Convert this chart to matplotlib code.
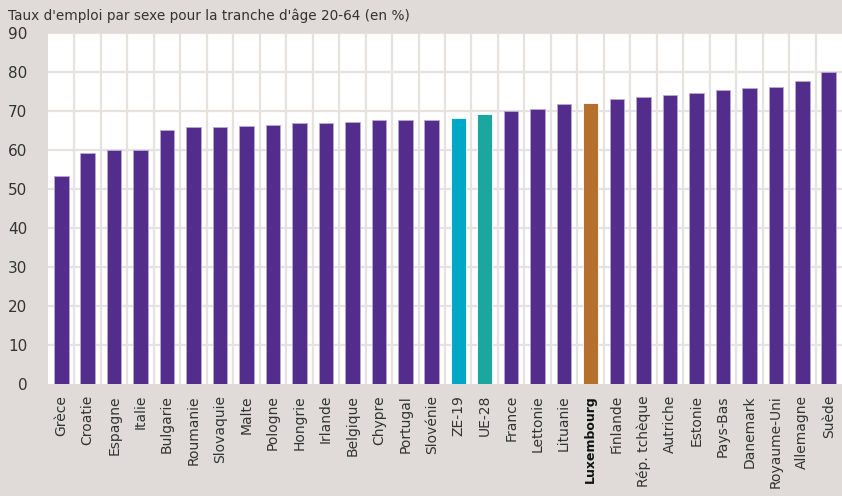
import matplotlib.pyplot as plt
import numpy as np

# --- Data ---
countries = ["Grèce", "Croatie", "Espagne", "Italie", "Bulgarie", "Roumanie", "Slovaquie",
             "Malte", "Pologne", "Hongrie", "Irlande", "Belgique", "Chypre", "Portugal",
             "Slovénie", "ZE-19", "UE-28", "France", "Lettonie", "Lituanie", "Luxembourg",
             "Finlande", "Rép. tchèque", "Autriche", "Estonie", "Pays-Bas", "Danemark",
             "Royaume-Uni", "Allemagne", "Suède"]
rates = [53.3, 59.2, 59.9, 59.9, 65.0, 65.8, 66.0, 66.2, 66.4, 66.8, 67.0, 67.2, 67.6, 67.6,
         67.8, 68.1, 69.2, 70.1, 70.6, 71.8, 72.1, 73.0, 73.5, 74.0, 74.5, 75.4, 75.8,
         76.1, 77.8, 80.0]
highlight = {"ZE-19": "#00a8c8", "UE-28": "#1ba69f", "Luxembourg": "#b4702c"}

# --- Style ---
bg = "#e0dbd9"
purple = "#532d8b"
font = ["Liberation Sans Narrow", "DejaVu Sans"]
plt.rcParams['font.family'] = font

fig = plt.figure(figsize=(8.42, 4.96), dpi=100, facecolor=bg)
ax = fig.add_axes([48 / 842, 1 - 384 / 496, 1 - 48 / 842, (384 - 33) / 496])
ax.set_facecolor("white")

x = np.arange(len(countries))
colors = [highlight.get(c, purple) for c in countries]
edges = ["#b9a9d3" if c not in highlight else "#ffffff" for c in countries]
ax.bar(x, rates, width=0.55, color=colors, edgecolor=edges, linewidth=0.6, zorder=3)

# grid: horizontal every 10, vertical between categories
for y in range(10, 91, 10):
    ax.axhline(y, color="#e6e2e0", linewidth=1.6, zorder=1)
for b in np.arange(0.5, len(countries) - 0.5, 1):
    ax.axvline(b, color="#e6e2e0", linewidth=1.6, zorder=1)

ax.set_xlim(-0.5, len(countries) - 0.5)
ax.set_ylim(0, 90)
ax.set_yticks(range(0, 91, 10))
ax.tick_params(axis='y', length=0, labelsize=11, labelcolor="#333333", pad=15)
ax.set_xticks(x)
ax.set_xticklabels(countries, rotation=90, fontsize=10, color="#333333")
ax.tick_params(axis='x', length=0, pad=8)
for lbl in ax.get_xticklabels():
    if lbl.get_text() == "Luxembourg":
        lbl.set_fontweight("bold")
        lbl.set_fontsize(9)
        lbl.set_color("#111111")
for s in ax.spines.values():
    s.set_visible(False)

fig.text(8 / 842, 1 - 16 / 496, "Taux d'emploi par sexe pour la tranche d'âge 20-64 (en %)",
         fontsize=9.8, color="#333333", va="center", ha="left")

fig.savefig("out.png", dpi=100, facecolor=bg)
